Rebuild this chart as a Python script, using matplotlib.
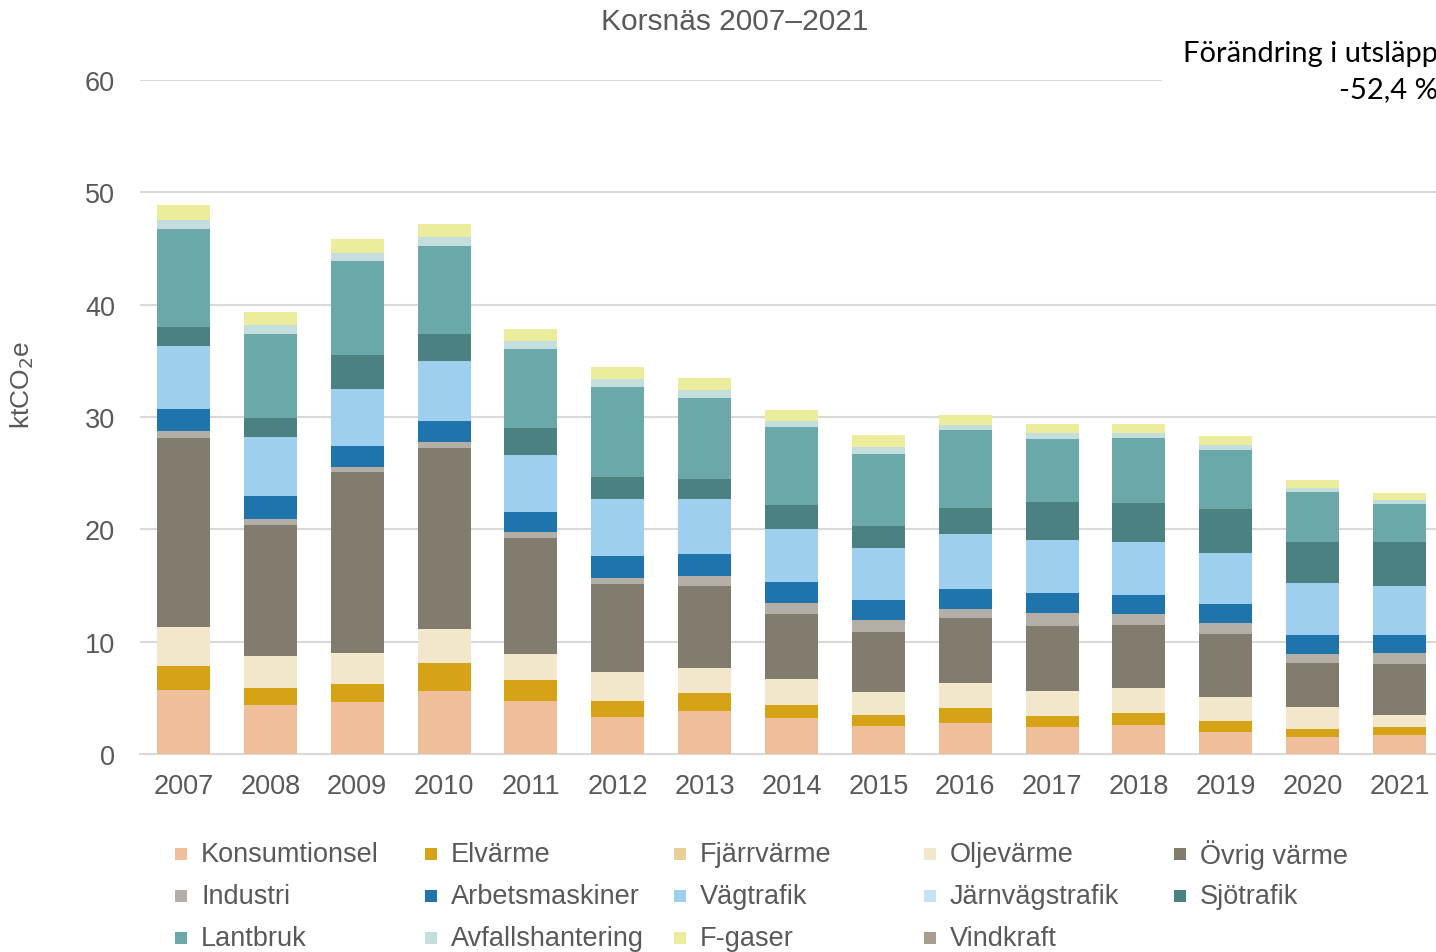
import matplotlib
matplotlib.use("Agg")
import numpy as np
import matplotlib.pyplot as plt
from matplotlib.patches import Rectangle

plt.rcParams["font.family"] = ["Liberation Sans", "DejaVu Sans"]

# ---------------- data (ktCO2e) ----------------
years = ["2007", "2008", "2009", "2010", "2011", "2012", "2013", "2014",
         "2015", "2016", "2017", "2018", "2019", "2020", "2021"]

konsumtionsel = [5.74, 4.37, 4.60, 5.64, 4.74, 3.26, 3.82, 3.17, 2.49, 2.78, 2.40, 2.58, 1.99, 1.51, 1.72]
elvarme = [2.10, 1.53, 1.65, 2.46, 1.87, 1.42, 1.64, 1.19, 1.00, 1.28, 1.01, 1.06, 0.97, 0.68, 0.68]
fjarrvarme = [0, 0, 0, 0, 0, 0, 0, 0, 0, 0, 0, 0, 0, 0, 0]
oljevarme = [3.50, 2.82, 2.73, 3.05, 2.25, 2.61, 2.22, 2.34, 2.02, 2.22, 2.19, 2.20, 2.08, 1.96, 1.07]
ovrig_varme = [16.75, 11.66, 16.10, 16.07, 10.35, 7.80, 7.32, 5.78, 5.36, 5.80, 5.77, 5.63, 5.66, 3.91, 4.50]
industri = [0.68, 0.55, 0.45, 0.58, 0.59, 0.62, 0.86, 0.95, 1.09, 0.86, 1.19, 0.97, 0.97, 0.86, 1.04]
arbetsmaskiner = [1.98, 2.07, 1.92, 1.88, 1.78, 1.93, 1.90, 1.87, 1.78, 1.78, 1.77, 1.69, 1.66, 1.66, 1.57]
vagtrafik = [5.54, 5.19, 5.08, 5.28, 5.07, 5.10, 4.98, 4.71, 4.56, 4.88, 4.68, 4.77, 4.60, 4.62, 4.41]
jarnvagstrafik = [0, 0, 0, 0, 0, 0, 0, 0, 0, 0, 0, 0, 0, 0, 0]
sjotrafik = [1.69, 1.69, 3.02, 2.47, 2.35, 1.96, 1.75, 2.14, 1.98, 2.34, 3.41, 3.44, 3.91, 3.70, 3.91]
lantbruk = [8.75, 7.55, 8.32, 7.81, 7.02, 8.00, 7.23, 6.96, 6.43, 6.93, 5.65, 5.75, 5.18, 4.42, 3.35]
avfallshantering = [0.84, 0.74, 0.69, 0.81, 0.77, 0.68, 0.68, 0.57, 0.59, 0.45, 0.51, 0.50, 0.48, 0.35, 0.39]
f_gaser = [1.30, 1.17, 1.26, 1.13, 1.07, 1.10, 1.07, 0.98, 1.07, 0.88, 0.77, 0.77, 0.80, 0.69, 0.56]
vindkraft = [0, 0, 0, 0, 0, 0, 0, 0, 0, 0, 0, 0, 0, 0, 0]

labels = ["Konsumtionsel", "Elvärme", "Fjärrvärme", "Oljevärme", "Övrig värme",
          "Industri", "Arbetsmaskiner", "Vägtrafik", "Järnvägstrafik", "Sjötrafik",
          "Lantbruk", "Avfallshantering", "F-gaser", "Vindkraft"]
series = [konsumtionsel, elvarme, fjarrvarme, oljevarme, ovrig_varme,
          industri, arbetsmaskiner, vagtrafik, jarnvagstrafik, sjotrafik,
          lantbruk, avfallshantering, f_gaser, vindkraft]
colors = ["#EFBF9B", "#D6A316", "#E8CF96", "#F3E7CB", "#827C6F",
          "#B3AEA6", "#1F74AC", "#9FCFEE", "#C5E3F5", "#4B8281",
          "#6AA8AA", "#C4DEDE", "#EBEC9C", "#A89E8F"]

change_text = "Förändring i utsläpp\n-52,4 %"

GREY = "#595959"
W, H = 1436, 953

fig = plt.figure(figsize=(W / 100, H / 100), dpi=100)
ax = fig.add_axes([140 / W, 1 - 755 / H, (1443 - 140) / W, (755 - 81) / H])

x = np.arange(len(years))
bottom = np.zeros(len(years))
for vals, col, lab in zip(series, colors, labels):
    vals = np.array(vals, dtype=float)
    ax.bar(x, vals, width=0.61, bottom=bottom, color=col, label=lab, linewidth=0, zorder=3)
    bottom += vals

ax.set_xlim(-0.5, len(years) - 0.5)
ax.set_ylim(0, 60)
ax.set_yticks(range(0, 61, 10))
ax.set_xticks(x)
ax.set_xticklabels(years)
ax.tick_params(axis="both", length=0, labelsize=19.5, colors=GREY)
ax.tick_params(axis="y", pad=18)
ax.tick_params(axis="x", pad=14)
ax.grid(axis="y", color="#D9D9D9", linewidth=1.5, zorder=0)
for s in ["top", "right", "left"]:
    ax.spines[s].set_visible(False)
ax.spines["bottom"].set_color("#D9D9D9")
ax.spines["bottom"].set_linewidth(1.5)

fig.text(22 / W, 1 - 385 / H, r"ktCO$_2$e", rotation=90, ha="center", va="center",
         fontsize=19, color=GREY)
fig.text(735 / W, 1 - 22 / H, "Korsnäs 2007–2021", ha="center", va="center",
         fontsize=21.5, color=GREY)

# text box with the change, sits on top of the grid
fig.patches.append(Rectangle((1162 / W, 1 - 110 / H), (W - 1162) / W, 100 / H,
                             transform=fig.transFigure, facecolor="white",
                             edgecolor="none", zorder=5))
fig.text(1438 / W, 1 - 72 / H, change_text, ha="right", va="center", fontsize=21,
         color="black", family=["Lato", "DejaVu Sans"], linespacing=1.45, zorder=6)

# legend, drawn row by row like the original
col_x = [181, 431, 680, 930, 1180]
row_y = [855, 897, 939]
for i, (lab, col) in enumerate(zip(labels, colors)):
    r, c = divmod(i, 5)
    fig.patches.append(Rectangle(((col_x[c] - 6) / W, 1 - (row_y[r] + 6) / H), 12 / W, 12 / H,
                                 transform=fig.transFigure, facecolor=col, edgecolor="none"))
    fig.text((col_x[c] + 20) / W, 1 - row_y[r] / H, lab, ha="left", va="center",
             fontsize=19.5, color=GREY)

fig.savefig("out.png", dpi=100)
